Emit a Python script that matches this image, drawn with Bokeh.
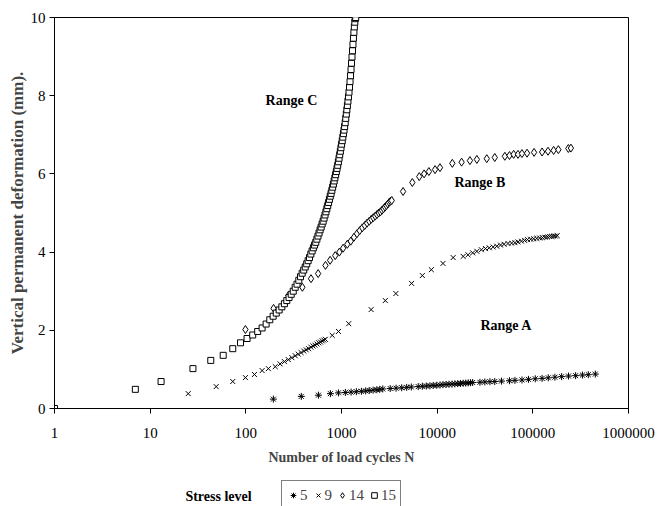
from bokeh.plotting import figure
from bokeh.layouts import column
from bokeh.models import Range1d, FixedTicker, PrintfTickFormatter, Label, Legend, LegendItem
from bokeh.embed import file_html
from bokeh.resources import INLINE

# ---------------- data ----------------
# stress level 5
n_5 = [1, 194, 380, 574, 766, 929, 1097, 1260, 1430, 1615,
       1790, 1950, 2140, 2340, 2510, 2700,
       3230, 3720, 4260, 4800, 5370,
       6340, 7000, 7700, 8400, 9100, 9900, 10700, 11500, 12400, 13300,
       14300, 15300, 16400, 17500, 18700, 19900, 21100, 22300, 23500,
       28000, 31500, 35600, 40000, 47000, 57000, 65000, 77000, 90000, 106000,
       125000, 145000, 170000, 200000, 236000, 280000, 330000, 380000, 450000]
d_5 = [0, 0.24, 0.31, 0.34, 0.38, 0.40, 0.41, 0.42, 0.43, 0.44,
       0.45, 0.46, 0.47, 0.48, 0.49, 0.50,
       0.51, 0.52, 0.53, 0.54, 0.55,
       0.56, 0.57, 0.575, 0.58, 0.59, 0.595, 0.60, 0.61, 0.615, 0.62,
       0.625, 0.63, 0.635, 0.64, 0.645, 0.65, 0.655, 0.66, 0.665,
       0.67, 0.68, 0.685, 0.69, 0.70, 0.71, 0.72, 0.73, 0.745, 0.76,
       0.77, 0.785, 0.80, 0.815, 0.83, 0.84, 0.855, 0.865, 0.88]

# stress level 9
n_9 = [1, 25, 49, 73, 99, 123, 148, 172, 203,
       228, 253, 278, 303, 328, 353, 378, 403, 428, 453, 478, 503, 528, 553,
       578, 603, 628, 653, 678,
       800, 930, 1190, 2040, 2870, 3700, 5400, 7000, 8700, 11500, 14700,
       18700, 21000, 23500, 26000, 29000, 32000, 35000, 38500, 42000, 46000,
       50000, 55000, 60000, 65000, 70000, 76000, 82000, 88000, 95000, 102000,
       110000, 118000, 126000, 134000, 142000, 150000, 158000, 165000, 172000, 180000]
d_9 = [0, 0.38, 0.56, 0.69, 0.79, 0.87, 0.97, 1.02, 1.07,
       1.14, 1.20, 1.25, 1.30, 1.35, 1.39, 1.43, 1.47, 1.50, 1.53, 1.57, 1.60, 1.62, 1.65,
       1.68, 1.70, 1.73, 1.75, 1.77,
       1.87, 1.97, 2.17, 2.53, 2.76, 2.94, 3.20, 3.40, 3.55, 3.71, 3.86,
       3.89, 3.93, 3.98, 4.02, 4.06, 4.09, 4.11, 4.13, 4.15, 4.18,
       4.20, 4.22, 4.23, 4.24, 4.26, 4.28, 4.30, 4.32, 4.33, 4.34,
       4.35, 4.36, 4.37, 4.38, 4.39, 4.40, 4.40, 4.41, 4.41, 4.42]

# stress level 14
n_14 = [1, 99, 195, 279, 314, 390, 480, 570, 680, 760, 860, 950, 1040, 1150,
        1250, 1350, 1450, 1550, 1650, 1750, 1850, 1950, 2050, 2150, 2250,
        2350, 2450, 2550, 2650, 2750, 2850, 2950, 3050, 3150, 3250, 3350,
        4400, 5500, 6500, 7300, 8200, 9500, 10700, 14400, 18000, 22000,
        26000, 33000, 40000, 51000, 57000, 63000, 70000, 77000, 87000, 103000,
        125000, 144000, 165000, 185000, 235000, 250000]
d_14 = [0, 2.02, 2.56, 2.89, 3.02, 3.10, 3.32, 3.45, 3.66, 3.79, 3.91, 4.00, 4.10, 4.20,
        4.28, 4.38, 4.47, 4.55, 4.62, 4.68, 4.74, 4.79, 4.84, 4.88, 4.92,
        4.96, 5.00, 5.03, 5.07, 5.11, 5.15, 5.19, 5.23, 5.27, 5.30, 5.32,
        5.55, 5.78, 5.93, 6.00, 6.06, 6.11, 6.16, 6.27, 6.30, 6.34,
        6.37, 6.39, 6.42, 6.45, 6.47, 6.50, 6.50, 6.52, 6.53, 6.55,
        6.56, 6.58, 6.60, 6.62, 6.65, 6.66]

# stress level 15
n_15 = [1, 7, 13, 28, 43, 58, 73, 88, 103,
        118, 133, 148, 163, 178, 193, 208, 223, 238, 253,
        268, 283, 298, 313, 328, 343, 358, 373, 388, 403,
        418, 433, 448, 463, 478, 493, 508, 523, 538, 553,
        568, 583, 598, 613, 628, 643, 658, 673, 688, 703,
        718, 733, 748, 763, 778, 793, 808, 823, 838, 853,
        868, 883, 898, 913, 928, 943, 958, 973, 988, 1003,
        1018, 1033, 1048, 1063, 1078, 1093, 1108, 1123, 1138, 1153,
        1168, 1183, 1198, 1213, 1228, 1243, 1258, 1273, 1288, 1303,
        1318, 1333, 1348, 1363, 1378, 1393, 1408]
d_15 = [0, 0.49, 0.69, 1.02, 1.23, 1.36, 1.53, 1.68, 1.79,
        1.88, 1.97, 2.06, 2.16, 2.27, 2.36, 2.44, 2.52, 2.60, 2.68,
        2.76, 2.84, 2.92, 3.00, 3.10, 3.18, 3.28, 3.37, 3.46, 3.54,
        3.62, 3.70, 3.78, 3.86, 3.95, 4.03, 4.11, 4.18, 4.25, 4.33,
        4.41, 4.49, 4.57, 4.64, 4.72, 4.79, 4.87, 4.95, 5.03, 5.11,
        5.19, 5.27, 5.35, 5.43, 5.50, 5.58, 5.66, 5.74, 5.82, 5.90,
        5.98, 6.06, 6.14, 6.22, 6.31, 6.40, 6.49, 6.58, 6.67, 6.76,
        6.85, 6.94, 7.03, 7.12, 7.21, 7.31, 7.42, 7.53, 7.64, 7.75,
        7.86, 7.97, 8.09, 8.22, 8.36, 8.51, 8.67, 8.83, 8.99, 9.15,
        9.31, 9.47, 9.62, 9.76, 9.88, 9.97, 10.0]

series_labels = ["5", "9", "14", "15"]
series_markers = ["asterisk", "x", "diamond", "square"]
x_ticks = [1, 10, 100, 1000, 10000, 100000, 1000000]
y_ticks = [0, 2, 4, 6, 8, 10]

range_texts = ["Range C", "Range B", "Range A"]
range_x = [300, 28000, 52800]
range_y = [7.88, 5.78, 2.12]

x_title = "Number of load cycles N"
y_title = "Vertical permanent deformation (mm)."
legend_title = "Stress level"

SERIF = "Liberation Serif"
W = 670
H_MAIN = 476
H_LEG = 30
LEFT, RIGHT = 54, 42

# ---------------- main figure ----------------
p = figure(width=W, height=H_MAIN, x_axis_type="log",
           x_range=Range1d(1, 1000000), y_range=Range1d(0, 10),
           output_backend="svg", toolbar_location=None,
           min_border_left=LEFT, min_border_right=RIGHT,
           min_border_top=17, min_border_bottom=H_MAIN - 408)
p.grid.visible = False
p.outline_line_color = "black"
p.outline_line_width = 1
p.background_fill_color = "white"
p.border_fill_color = "white"

xa = p.xaxis[0]
xa.ticker = FixedTicker(ticks=x_ticks)
xa.formatter = PrintfTickFormatter(format="%d")
xa.minor_tick_line_color = None
xa.major_tick_in = 0
xa.major_tick_out = 5
xa.major_label_standoff = 14
xa.major_label_text_font = SERIF
xa.major_label_text_font_size = "15px"
xa.major_label_text_color = "black"
xa.axis_label = x_title
xa.axis_label_text_font = SERIF
xa.axis_label_text_font_style = "bold"
xa.axis_label_text_font_size = "14px"
xa.axis_label_standoff = 9
xa.axis_line_color = "black"

ya = p.yaxis[0]
ya.ticker = FixedTicker(ticks=y_ticks)
ya.minor_tick_line_color = None
ya.major_tick_in = 0
ya.major_tick_out = 5
ya.major_label_standoff = 4
ya.major_label_text_font = SERIF
ya.major_label_text_font_size = "15px"
ya.major_label_text_color = "black"
ya.axis_label = y_title
ya.axis_label_text_font = SERIF
ya.axis_label_text_font_style = "bold"
ya.axis_label_text_font_size = "17px"
ya.axis_label_standoff = 1
ya.axis_line_color = "black"

r5 = p.scatter(n_5, d_5, marker="asterisk", size=7, line_color="black", line_width=1)
r9 = p.scatter(n_9, d_9, marker="x", size=7, line_color="black", line_width=1)
r14 = p.scatter(n_14, d_14, marker="diamond", size=8, line_color="black",
                fill_color="white", line_width=1)
r15 = p.scatter(n_15, d_15, marker="square", size=6, line_color="black",
                fill_color="white", line_width=1)

for t, x, y in zip(range_texts, range_x, range_y):
    p.add_layout(Label(x=x, y=y, text=t, text_font=SERIF, text_font_style="bold",
                       text_font_size="14px", text_align="center",
                       text_baseline="middle", text_color="black"))

# ---------------- legend strip (below the chart) ----------------
# x range equals canvas pixels across the frame, so positions read directly
p2 = figure(width=W, height=H_LEG, x_range=Range1d(LEFT, W - RIGHT),
            y_range=Range1d(0, H_LEG),
            output_backend="svg", toolbar_location=None,
            x_axis_location=None, y_axis_location=None,
            min_border_left=LEFT, min_border_right=RIGHT,
            min_border_top=0, min_border_bottom=0)
p2.grid.visible = False
p2.outline_line_color = None
p2.background_fill_color = "white"
p2.border_fill_color = "white"

nan = float("nan")
leg_renderers = []
for m in series_markers:
    fill = "white" if m in ("diamond", "square") else None
    leg_renderers.append(p2.scatter([nan], [nan], marker=m, line_color="black",
                                    fill_color=fill, line_width=1))

p2.add_layout(Label(x=218, y=10, text=legend_title, text_font=SERIF,
                    text_font_style="bold", text_font_size="14px",
                    text_align="center", text_baseline="middle", text_color="black"))

legend = Legend(items=[LegendItem(label=l, renderers=[r])
                       for l, r in zip(series_labels, leg_renderers)],
                location="top_center", orientation="horizontal",
                glyph_width=14, glyph_height=20, label_height=20, label_width=5,
                label_standoff=0, spacing=3, padding=4, margin=4,
                label_text_font=SERIF, label_text_font_size="15px",
                label_text_baseline="middle",
                border_line_color="black", border_line_width=1,
                background_fill_color="white", background_fill_alpha=1)
p2.add_layout(legend)

layout = column(p, p2, spacing=0)
open("out.html", "w").write(file_html(layout, INLINE))
